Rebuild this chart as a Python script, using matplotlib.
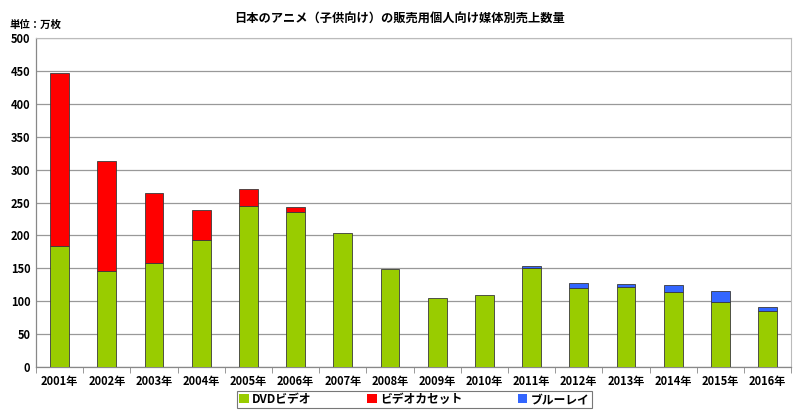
import matplotlib
matplotlib.use("Agg")
import matplotlib.pyplot as plt
from matplotlib.patches import Patch
import numpy as np

plt.rcParams['font.family'] = ['Noto Sans CJK JP', 'DejaVu Sans']

years = ["2001年", "2002年", "2003年", "2004年", "2005年", "2006年", "2007年", "2008年",
         "2009年", "2010年", "2011年", "2012年", "2013年", "2014年", "2015年", "2016年"]
dvd = [184, 146, 158, 193, 245, 235, 204, 149, 105, 109, 150, 120, 122, 114, 99, 85]
vhs = [263, 167, 106, 45, 26, 8, 0, 0, 0, 0, 0, 0, 0, 0, 0, 0]
bluray = [0, 0, 0, 0, 0, 0, 0, 0, 0, 0, 4, 7, 4, 10, 17, 6]
series_names = ["DVDビデオ", "ビデオカセット", "ブルーレイ"]
colors = ["#99CC00", "#FF0000", "#3366FF"]
yticks = list(range(0, 501, 50))

fig = plt.figure(figsize=(8, 4.11), dpi=100)
ax = fig.add_axes([0.045, 0.107, 0.944, 0.8005])

x = np.arange(len(years))
w = 0.4
dvd_a = np.array(dvd)
vhs_a = np.array(vhs)
bd_a = np.array(bluray)
ec = "#3a3a3a"
b1 = ax.bar(x, dvd_a, w, color=colors[0], edgecolor=ec, linewidth=0.6, zorder=3)
b2 = ax.bar(x, vhs_a, w, bottom=dvd_a, color=colors[1], edgecolor=ec, linewidth=0.6, zorder=3)
b3 = ax.bar(x, bd_a, w, bottom=dvd_a + vhs_a, color=colors[2], edgecolor=ec, linewidth=0.6, zorder=3)
for bars, vals in ((b2, vhs_a), (b3, bd_a)):
    for r, v in zip(bars, vals):
        if v == 0:
            r.set_visible(False)

ax.set_xlim(-0.5, len(years) - 0.5)
ax.set_ylim(0, 500)
ax.set_yticks(yticks)
ax.set_yticklabels([str(t) for t in yticks], fontsize=8, fontweight='bold')
ax.set_xticks(x)
ax.set_xticklabels(years, fontsize=8, fontweight='bold')
ax.tick_params(axis='x', length=0, pad=6)
ax.tick_params(axis='y', length=0, pad=4)
ax.set_xticks(np.arange(-0.5, len(years), 1), minor=True)
ax.tick_params(axis='x', which='minor', length=4, color='#888888', direction='out')

ax.yaxis.grid(True, color='#999999', linewidth=0.9, zorder=0)
ax.set_axisbelow(True)
for s in ['top', 'right']:
    ax.spines[s].set_color('#bbbbbb')
    ax.spines[s].set_linewidth(0.8)
for s in ['left', 'bottom']:
    ax.spines[s].set_color('#888888')
    ax.spines[s].set_linewidth(0.9)

fig.text(0.5, 0.955, "日本のアニメ（子供向け）の販売用個人向け媒体別売上数量", ha='center', va='center',
         fontsize=8.8, fontweight='bold')
fig.text(0.012, 0.94, "単位：万枚", ha='left', va='center', fontsize=7.5, fontweight='bold')

handles = [Patch(facecolor=c, edgecolor='none') for c in colors]
leg = fig.legend(handles=handles, labels=series_names, loc='center', bbox_to_anchor=(0.518, 0.028),
                 ncol=3, frameon=True, fancybox=False, edgecolor='#555555',
                 handlelength=0.8, handleheight=0.8, handletextpad=0.3, columnspacing=4.7,
                 borderpad=0.2, borderaxespad=0, prop={'weight': 'bold', 'size': 8.5})
leg.get_frame().set_linewidth(0.8)

fig.savefig("out.png", dpi=100)
